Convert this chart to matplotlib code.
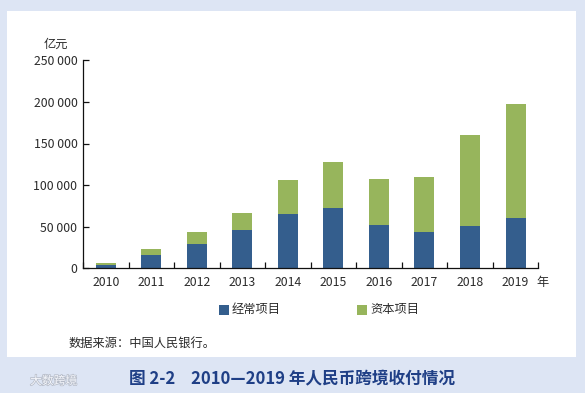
import matplotlib.patheffects as pe
import matplotlib.pyplot as plt
from matplotlib.patches import Rectangle

years = ["2010", "2011", "2012", "2013", "2014", "2015", "2016", "2017", "2018", "2019"]
current = [4000, 16000, 29200, 46000, 65300, 72500, 52000, 43600, 50800, 60400]
capital = [2400, 7200, 14400, 20500, 40800, 55300, 55300, 66100, 109400, 137100]
y_ticks = [0, 50000, 100000, 150000, 200000, 250000]
y_labels = ["0", "50 000", "100 000", "150 000", "200 000", "250 000"]

W, H = 585, 393
plt.rcParams["font.family"] = ["Noto Sans CJK SC", "DejaVu Sans"]
text_color = "#2b2b2b"

fig = plt.figure(figsize=(W / 100, H / 100), dpi=100, facecolor="#dde5f4")
fig.add_artist(Rectangle((7 / W, 1 - 357 / H), 569 / W, 346 / H, transform=fig.transFigure,
                         facecolor="white", edgecolor="none", zorder=-1))

ax = fig.add_axes([83 / W, 1 - 268.3 / H, 455.3 / W, 208 / H])
ax.patch.set_alpha(0)
positions = range(len(years))
ax.bar(positions, current, width=0.44, color="#345e8d", label="经常项目")
ax.bar(positions, capital, width=0.44, bottom=current, color="#97b55c", label="资本项目")

ax.set_xlim(-0.5, 9.5)
ax.set_ylim(0, 250000)
ax.set_yticks(y_ticks, y_labels)
ax.set_xticks([i - 0.5 for i in range(len(years) + 1)], labels=[""] * (len(years) + 1))
ax.tick_params(axis="x", direction="in", length=4, width=0.9, color="#111111")
ax.tick_params(axis="y", direction="in", length=4, width=0.9, color="#111111",
               labelsize=8.8, labelcolor=text_color, pad=4)
for i, year in enumerate(years):
    ax.text(i, -9500, year, ha="center", va="top", fontsize=8.8, color=text_color)
ax.text(9.6, -9500, "年", ha="center", va="top", fontsize=8.8, color=text_color, clip_on=False)
ax.spines[["top", "right"]].set_visible(False)
ax.spines[["left", "bottom"]].set_linewidth(0.9)
ax.spines[["left", "bottom"]].set_color("#111111")

fig.text(56 / W, 1 - 44 / H, "亿元", ha="center", va="center", fontsize=8.8, color=text_color)
fig.text(69 / W, 1 - 343 / H, "数据来源：中国人民银行。", ha="left", va="center", fontsize=8.8, color=text_color)

# legend placed by hand, the two entries sit far apart
for x, color, label in [(219, "#345e8d", "经常项目"), (357, "#97b55c", "资本项目")]:
    fig.add_artist(Rectangle((x / W, 1 - 315 / H), 10 / W, 10 / H, transform=fig.transFigure,
                             facecolor=color, edgecolor="none"))
    fig.text((x + 13) / W, 1 - 310 / H, label, ha="left", va="center", fontsize=8.8, color=text_color)

fig.text(129 / W, 1 - 379 / H, "图 2-2", ha="left", va="center",
         fontsize=12, fontweight="bold", color="#1f3f86")
fig.text(191 / W, 1 - 379 / H, "2010—2019 年人民币跨境收付情况", ha="left", va="center",
         fontsize=12, fontweight="bold", color="#1f3f86")
mark = fig.text(30 / W, 1 - 381 / H, "大数跨境", ha="left", va="center", fontsize=8.5, color="#f4f6fb")
mark.set_path_effects([pe.withStroke(linewidth=1, foreground="#b4bac6")])

fig.savefig("out.png", dpi=100, facecolor=fig.get_facecolor())
plt.close(fig)
